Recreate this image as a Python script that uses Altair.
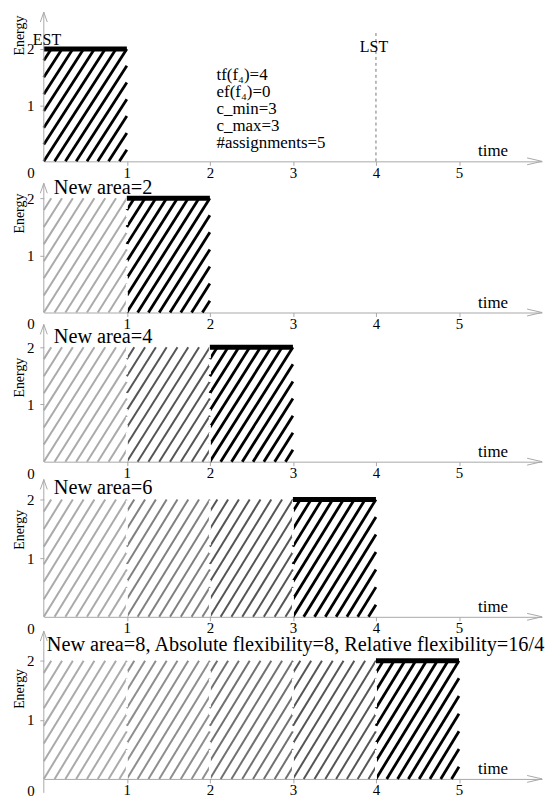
import math
import pandas as pd
import altair as alt

# ---------------- data ----------------
time_ticks = [1, 2, 3, 4, 5]
energy_ticks = [1, 2]
slot_start = [0, 1, 2, 3, 4]
slot_end = [1, 2, 3, 4, 5]
slot_energy = [2, 2, 2, 2, 2]
bars_per_panel = [1, 2, 3, 4, 5]
panel_titles = ["", "New area=2", "New area=4", "New area=6",
                "New area=8, Absolute flexibility=8, Relative flexibility=16/4"]
info_lines = ["tf(f₄)=4", "ef(f₄)=0", "c_min=3", "c_max=3", "#assignments=5"]
est_time = 0
lst_time = 4
time_max = 6

# ---------------- layout / style ----------------
FONT = "Liberation Serif"
AX = "#a8a8a8"
panel_heights = [150, 140, 138, 144, 151]
panel_ymax = [2.655, 2.435, 2.40, 2.44, 2.54]
arrow_top = [2.655, 2.26, 2.40, 2.34, 2.50]
axis_ext = [0, 0, 0, 0, 14]
title_y = [2.18, 2.18, 2.18, 2.19, 2.26]
title_dx = [10, 10, 10, 10, 3]
energy_title_y = [23, 40, 53, 56, 60]
HATCH_SPACING = 0.13
HATCH_SLOPE = 2.3


def hatch_segments(x0, x1, y0, y1, color, width):
    rows = []
    h = y1 - y0
    run = h / HATCH_SLOPE
    k = math.ceil(run / HATCH_SPACING)
    c = x0 - k * HATCH_SPACING
    while c < x1 - 1e-9:
        xs = max(x0, c)
        ys = y0 + HATCH_SLOPE * (xs - c)
        xe = min(x1, c + run)
        ye = y0 + HATCH_SLOPE * (xe - c)
        if xe - xs > 1e-6 and ys < y1:
            rows.append({"x": xs, "x2": xe, "y": ys, "y2": ye, "c": color, "w": width})
        c += HATCH_SPACING
    return rows


def gray_for(j, n_prev):
    t = j / (n_prev - 1) if n_prev > 1 else 0.0
    g = int(round(170 - t * 85))
    return "#{0:02x}{0:02x}{0:02x}".format(g)


def build_panel(p):
    n = bars_per_panel[p]
    H = panel_heights[p]
    xs = alt.Scale(domain=[0, time_max], nice=False, zero=False)
    ys = alt.Scale(domain=[0, panel_ymax[p]], nice=False, zero=False)
    xaxis = alt.Axis(values=time_ticks, title=None, grid=False, domainColor=AX,
                     tickColor=AX, tickSize=4, labelPadding=0, labelFont=FONT,
                     labelFontSize=15, labelColor="black")
    yaxis = alt.Axis(values=energy_ticks, title="Energy", grid=False, domain=False,
                     tickColor=AX, tickSize=4, labelPadding=6, labelFont=FONT,
                     labelFontSize=15, labelColor="black", titleFont=FONT,
                     titleFontSize=14, titleFontWeight="normal", titleColor="black",
                     titleAngle=270, titleX=-24, titleY=energy_title_y[p],
                     titleAlign="center", titleBaseline="middle")

    def X(f):
        return alt.X(f, type="quantitative", scale=xs, axis=xaxis)

    def Y(f):
        return alt.Y(f, type="quantitative", scale=ys, axis=yaxis)

    # hatch
    rows = []
    for j in range(n):
        current = j == n - 1
        col = "black" if current else gray_for(j, n - 1)
        w = 2.8 if current else 2.0
        rows += hatch_segments(slot_start[j], slot_end[j], 0, slot_energy[j], col, w)
    hdf = pd.DataFrame(rows)
    hatch = alt.Chart(hdf).mark_rule(strokeCap="butt").encode(
        x=X("x"), x2="x2", y=Y("y"), y2="y2",
        color=alt.Color("c:N", scale=None),
        strokeWidth=alt.StrokeWidth("w:Q", scale=None))

    layers = [hatch]

    # white dashed separators between slots
    if n > 1:
        sdf = pd.DataFrame({"x": slot_start[1:n], "y": [0] * (n - 1),
                            "y2": slot_energy[1:n]})
        layers.append(alt.Chart(sdf).mark_rule(color="white", strokeWidth=2,
                                               strokeDash=[5, 3]).encode(
            x=X("x"), y=Y("y"), y2="y2"))

    # thick top of current slot
    tdf = pd.DataFrame({"x": [slot_start[n - 1]], "x2": [slot_end[n - 1]],
                        "y": [slot_energy[n - 1]]})
    layers.append(alt.Chart(tdf).mark_rule(color="black", strokeWidth=5,
                                           strokeCap="butt").encode(
        x=X("x"), x2="x2", y=Y("y")))

    # y axis line with arrow
    adf = pd.DataFrame({"x": [0], "y": [arrow_top[p]]})
    layers.append(alt.Chart(adf).mark_rule(color=AX, strokeWidth=1).encode(
        x=X("x"), y=Y("y"), y2=alt.value(H + axis_ext[p])))
    layers.append(alt.Chart(adf).mark_point(
        shape="M-0.35,1L0,0L0.35,1", filled=False, color=AX, strokeWidth=1,
        size=400, opacity=1).encode(x=X("x"), y=Y("y")))
    # x axis arrow
    xadf = pd.DataFrame({"x": [time_max], "y": [0]})
    layers.append(alt.Chart(xadf).mark_point(
        shape="M-1,-0.23L0,0L-1,0.23", filled=False, color=AX, strokeWidth=1,
        size=900, opacity=1).encode(x=X("x"), y=Y("y")))

    # "time" label
    tl = pd.DataFrame({"x": [5.41], "y": [0], "t": ["time"]})
    layers.append(alt.Chart(tl).mark_text(font=FONT, fontSize=17, color="black",
                                          baseline="alphabetic", dy=-5).encode(
        x=X("x"), y=Y("y"), text="t:N"))

    # origin 0
    od = pd.DataFrame({"x": [0], "y": [0], "t": ["0"]})
    layers.append(alt.Chart(od).mark_text(font=FONT, fontSize=15, color="black",
                                          baseline="middle", dx=-13, dy=12).encode(
        x=X("x"), y=Y("y"), text="t:N"))

    if panel_titles[p]:
        ttl = pd.DataFrame({"x": [0], "y": [title_y[p]], "t": [panel_titles[p]]})
        layers.append(alt.Chart(ttl).mark_text(font=FONT, fontSize=20.4, color="black",
                                               align="left", baseline="middle",
                                               dx=title_dx[p]).encode(
            x=X("x"), y=Y("y"), text="t:N"))

    if p == 0:
        # LST dashed line
        ld = pd.DataFrame({"x": [lst_time], "y": [0], "y2": [2.3]})
        layers.append(alt.Chart(ld).mark_rule(color="#777777", strokeWidth=1,
                                              strokeDash=[3, 3]).encode(
            x=X("x"), y=Y("y"), y2="y2"))
        lt = pd.DataFrame({"x": [lst_time], "y": [2.04], "t": ["LST"]})
        layers.append(alt.Chart(lt).mark_text(font=FONT, fontSize=16, color="black",
                                              baseline="middle", dx=-2).encode(
            x=X("x"), y=Y("y"), text="t:N"))
        et = pd.DataFrame({"x": [est_time], "y": [2.16], "t": ["EST"]})
        layers.append(alt.Chart(et).mark_text(font=FONT, fontSize=16, color="black",
                                              baseline="middle", align="left",
                                              dx=-11).encode(
            x=X("x"), y=Y("y"), text="t:N"))
        it = pd.DataFrame({"x": [2.08], "y": [1.67], "t": ["\n".join(info_lines)]})
        layers.append(alt.Chart(it).mark_text(font=FONT, fontSize=17, color="black",
                                              align="left", baseline="top",
                                              lineBreak="\n", lineHeight=17).encode(
            x=X("x"), y=Y("y"), text="t:N"))

    return alt.layer(*layers).properties(width=501, height=H)


panels = [build_panel(p) for p in range(5)]
chart = alt.vconcat(*panels, spacing=12, bounds="flush").properties(
    padding={"left": 5, "top": 0, "right": 2, "bottom": 0},
    background="white",
).configure_view(stroke=None)

chart.save("out.html", embed_options={"renderer": "svg", "actions": False})
